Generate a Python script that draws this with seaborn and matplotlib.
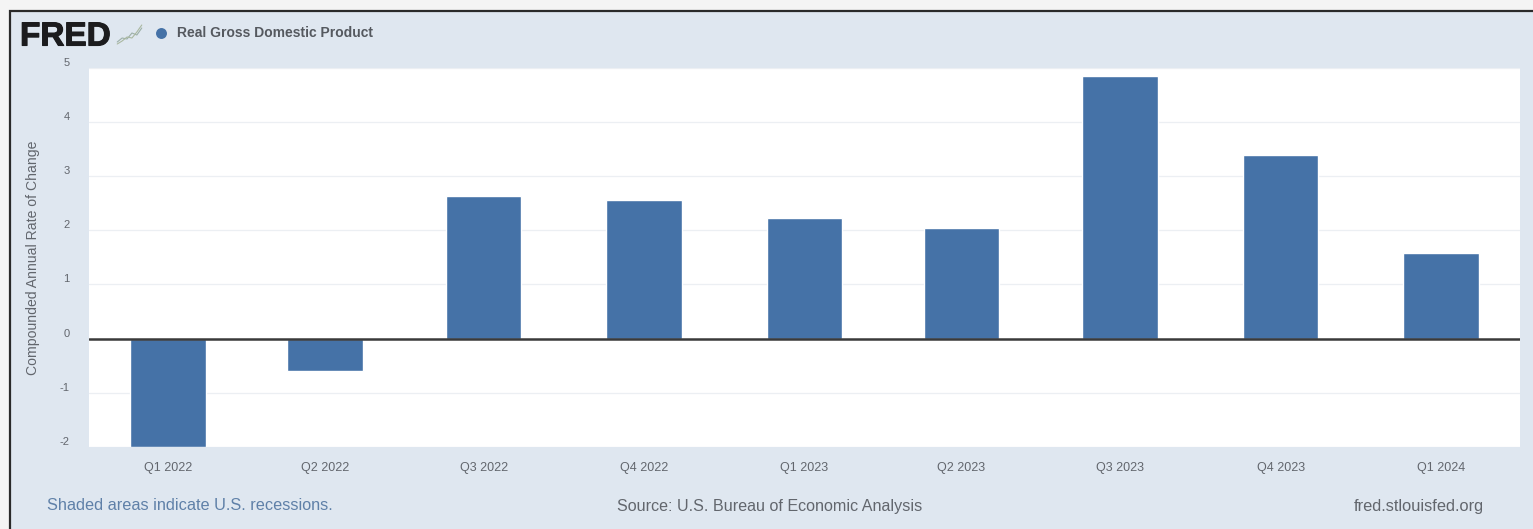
import matplotlib
matplotlib.use("Agg")
import matplotlib.pyplot as plt
from matplotlib.patches import Rectangle
from matplotlib.transforms import ScaledTranslation
import matplotlib.patheffects as pe
import pandas as pd
import seaborn as sns

quarters = ["Q1 2022", "Q2 2022", "Q3 2022", "Q4 2022", "Q1 2023",
            "Q2 2023", "Q3 2023", "Q4 2023", "Q1 2024"]
quarter_starts = ["2022-01-01", "2022-04-01", "2022-07-01", "2022-10-01", "2023-01-01",
                  "2023-04-01", "2023-07-01", "2023-10-01", "2024-01-01"]
growth = [-2.0, -0.6, 2.64, 2.55, 2.22, 2.05, 4.85, 3.38, 1.58]
y_ticks = [-2, -1, 0, 1, 2, 3, 4, 5]
logo_trend_a = [0.1, 0.3, 0.25, 0.55, 0.45, 0.8]
logo_trend_b = [0.0, 0.15, 0.35, 0.3, 0.6, 0.95]

W, H = 1533, 529
PANEL = "#dfe7f0"
BAR = "#4572a7"
TEXT = "#62666d"

sns.set_theme(style="white", rc={"font.family": ["Liberation Sans", "DejaVu Sans"]})
fig = plt.figure(figsize=(W / 100, H / 100), dpi=100, facecolor="#f4f4f4")


def px_rect(left, top, right, bottom):
    return [left / W, 1 - bottom / H, (right - left) / W, (bottom - top) / H]


# Framed page panel behind the chart
fig.add_artist(Rectangle((9.5 / W, -0.02), 1, 1.02 - 10.5 / H, transform=fig.transFigure,
                         facecolor=PANEL, edgecolor="#2a2a2a", linewidth=1.6, zorder=-5))

ax = fig.add_axes(px_rect(89, 67.5, 1520, 447.2), facecolor="white")

# Bars sit on a true date axis, so spacing follows the length of each quarter
dates = pd.to_datetime(quarter_starts)
days = (dates - dates[0]).days.to_numpy()
frame = pd.DataFrame({"day": days, "growth": growth})
sns.barplot(data=frame, x="day", y="growth", color=BAR, saturation=1, width=0.482,
            native_scale=True, ax=ax, zorder=3)

ax.set_xlim(days[0] - 45.3, days[-1] + 45.3)
ax.set_xticks(days)
ax.set_xticklabels(quarters)
ax.set_ylim(-2, 5)
ax.set_yticks(y_ticks)
ax.set_yticklabels([str(v) for v in y_ticks])
ax.grid(axis="y", color="#eceff3", linewidth=0.9, zorder=0)
ax.axhline(0, color="#3a3a3a", linewidth=1.8, zorder=4)
ax.set_xlabel("")
ax.set_ylabel("Compounded Annual Rate of Change", fontsize=10.1, color=TEXT)
ax.yaxis.set_label_coords(-0.034, 0.5)
ax.tick_params(axis="x", length=0, labelsize=9, labelcolor=TEXT, pad=11)
ax.tick_params(axis="y", length=0, labelsize=8, labelcolor=TEXT, pad=14)
for spine in ax.spines.values():
    spine.set_visible(False)

# Value labels float just above their gridlines
lift = ScaledTranslation(0, 6 / 100, fig.dpi_scale_trans)
for label in ax.get_yticklabels():
    label.set_transform(label.get_transform() + lift)

# Header: wordmark, small trend glyph and series legend
fig.text(20 / W, 1 - 37 / H, "FRED", fontsize=24, fontweight="bold", color="#1c1c1e",
         va="center", ha="left",
         path_effects=[pe.withStroke(linewidth=0.8, foreground="#1c1c1e")])
glyph = fig.add_axes(px_rect(116, 23, 143, 45), facecolor="none")
glyph.axis("off")
glyph.set_ylim(-0.05, 1.05)
sns.lineplot(x=range(len(logo_trend_a)), y=logo_trend_a, color="#9db0a8", linewidth=0.8, ax=glyph)
sns.lineplot(x=range(len(logo_trend_b)), y=logo_trend_b, color="#aab8a0", linewidth=0.8, ax=glyph)
legend_ax = fig.add_axes([0, 0, 1, 1], facecolor="none")
legend_ax.axis("off")
legend_ax.set_xlim(0, W)
legend_ax.set_ylim(H, 0)
legend_ax.scatter([161], [32.5], s=62, color=BAR, linewidths=0)
fig.text(177 / W, 1 - 33 / H, "Real Gross Domestic Product", fontsize=10,
         fontweight="bold", color="#55595f", va="center", ha="left")

# Footer notes
fig.text(47 / W, 1 - 506 / H, "Shaded areas indicate U.S. recessions.",
         fontsize=11.7, color="#5f80a8", va="center", ha="left")
fig.text(770 / W, 1 - 506 / H, "Source: U.S. Bureau of Economic Analysis",
         fontsize=11.6, color=TEXT, va="center", ha="center")
fig.text(1484 / W, 1 - 506 / H, "fred.stlouisfed.org",
         fontsize=11.8, color=TEXT, va="center", ha="right")

fig.savefig("out.png", dpi=100, facecolor=fig.get_facecolor())
